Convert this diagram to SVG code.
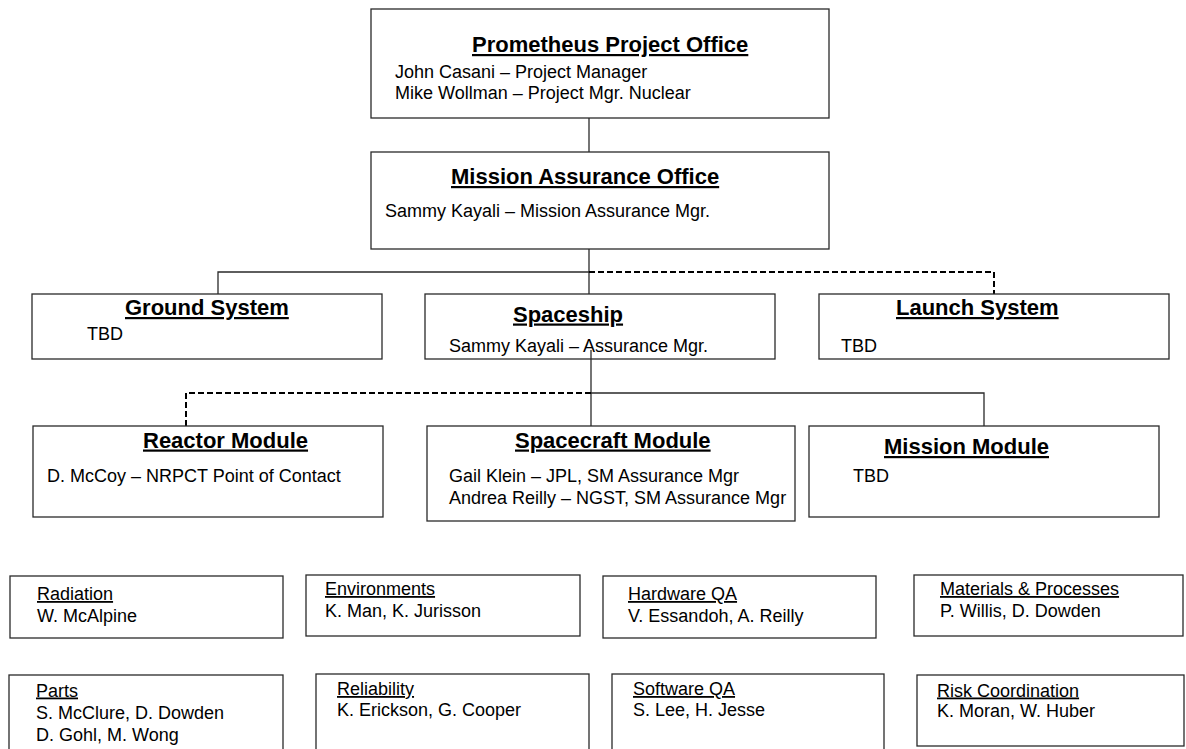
<svg xmlns="http://www.w3.org/2000/svg" width="1186" height="749" viewBox="0 0 1186 749">
<style>
.box{fill:#fff;stroke:#2a2a2a;stroke-width:1.3}
.t{font-family:"Liberation Sans",Arial,sans-serif;font-size:22px;font-weight:bold;fill:#000;text-decoration:underline}
.b{font-family:"Liberation Sans",Arial,sans-serif;font-size:18px;fill:#000}
.h{font-family:"Liberation Sans",Arial,sans-serif;font-size:18px;fill:#000;text-decoration:underline}
.sol{fill:none;stroke:#2a2a2a;stroke-width:1.3}
.dash{fill:none;stroke:#000;stroke-width:2;stroke-dasharray:6 3}
</style>
<rect width="1186" height="749" fill="#fff"/>
<g id="connectors">
<path class="sol" d="M589 118V152"/>
<path class="sol" d="M589 249V294"/>
<path class="sol" d="M589 272H218V294"/>
<path class="dash" d="M589 272H994V294"/>
<path class="sol" d="M591 350V426"/>
<path class="dash" d="M591 393H186V426"/>
<path class="sol" d="M591 393H984V426"/>
</g>
<g id="prometheus">
<rect class="box" x="371" y="9" width="458" height="109"/>
<text class="t" x="472" y="52">Prometheus Project Office</text>
<text class="b" x="395" y="78">John Casani – Project Manager</text>
<text class="b" x="395" y="99">Mike Wollman – Project Mgr. Nuclear</text>
</g>
<g id="mission-assurance">
<rect class="box" x="371" y="152" width="458" height="97"/>
<text class="t" x="451" y="184">Mission Assurance Office</text>
<text class="b" x="385" y="217">Sammy Kayali – Mission Assurance Mgr.</text>
</g>
<g id="ground-system">
<rect class="box" x="32" y="294" width="350" height="65"/>
<text class="t" x="125" y="315">Ground System</text>
<text class="b" x="87" y="340">TBD</text>
</g>
<g id="spaceship">
<rect class="box" x="425" y="294" width="350" height="65"/>
<text class="t" x="513" y="321.5">Spaceship</text>
<text class="b" x="449" y="351.5">Sammy Kayali – Assurance Mgr.</text>
</g>
<g id="launch-system">
<rect class="box" x="819" y="294" width="350" height="65"/>
<text class="t" x="896" y="315">Launch System</text>
<text class="b" x="841" y="351.5">TBD</text>
</g>
<path class="sol" d="M591 350V359"/>
<g id="reactor-module">
<rect class="box" x="33" y="426" width="350" height="91"/>
<text class="t" x="143" y="447.5">Reactor Module</text>
<text class="b" x="47" y="481.5">D. McCoy – NRPCT Point of Contact</text>
</g>
<g id="spacecraft-module">
<rect class="box" x="427" y="426" width="368" height="95"/>
<text class="t" x="515" y="447.5">Spacecraft Module</text>
<text class="b" x="449" y="481.5">Gail Klein – JPL, SM Assurance Mgr</text>
<text class="b" x="449" y="503.5">Andrea Reilly – NGST, SM Assurance Mgr</text>
</g>
<g id="mission-module">
<rect class="box" x="809" y="426" width="350" height="91"/>
<text class="t" x="884" y="454">Mission Module</text>
<text class="b" x="853" y="481.5">TBD</text>
</g>
<g id="radiation">
<rect class="box" x="10" y="576" width="273" height="62"/>
<text class="h" x="37" y="600">Radiation</text>
<text class="b" x="37" y="621.5">W. McAlpine</text>
</g>
<g id="environments">
<rect class="box" x="306" y="575" width="274" height="61"/>
<text class="h" x="325" y="595">Environments</text>
<text class="b" x="325" y="616.5">K. Man, K. Jurisson</text>
</g>
<g id="hardware-qa">
<rect class="box" x="603" y="576" width="273" height="62"/>
<text class="h" x="628" y="600">Hardware QA</text>
<text class="b" x="628" y="621.5">V. Essandoh, A. Reilly</text>
</g>
<g id="materials-processes">
<rect class="box" x="914" y="575" width="269" height="61"/>
<text class="h" x="940" y="595">Materials &amp; Processes</text>
<text class="b" x="940" y="616.5">P. Willis, D. Dowden</text>
</g>
<g id="parts">
<rect class="box" x="9" y="675" width="274" height="90"/>
<text class="h" x="36" y="696.5">Parts</text>
<text class="b" x="36" y="719">S. McClure, D. Dowden</text>
<text class="b" x="36" y="740.5">D. Gohl, M. Wong</text>
</g>
<g id="reliability">
<rect class="box" x="316" y="674" width="273" height="90"/>
<text class="h" x="337" y="695">Reliability</text>
<text class="b" x="337" y="716">K. Erickson, G. Cooper</text>
</g>
<g id="software-qa">
<rect class="box" x="612" y="674" width="272" height="90"/>
<text class="h" x="633" y="695">Software QA</text>
<text class="b" x="633" y="716">S. Lee, H. Jesse</text>
</g>
<g id="risk-coordination">
<rect class="box" x="917" y="675" width="267" height="71"/>
<text class="h" x="937" y="696.5">Risk Coordination</text>
<text class="b" x="937" y="716.5">K. Moran, W. Huber</text>
</g>
</svg>
